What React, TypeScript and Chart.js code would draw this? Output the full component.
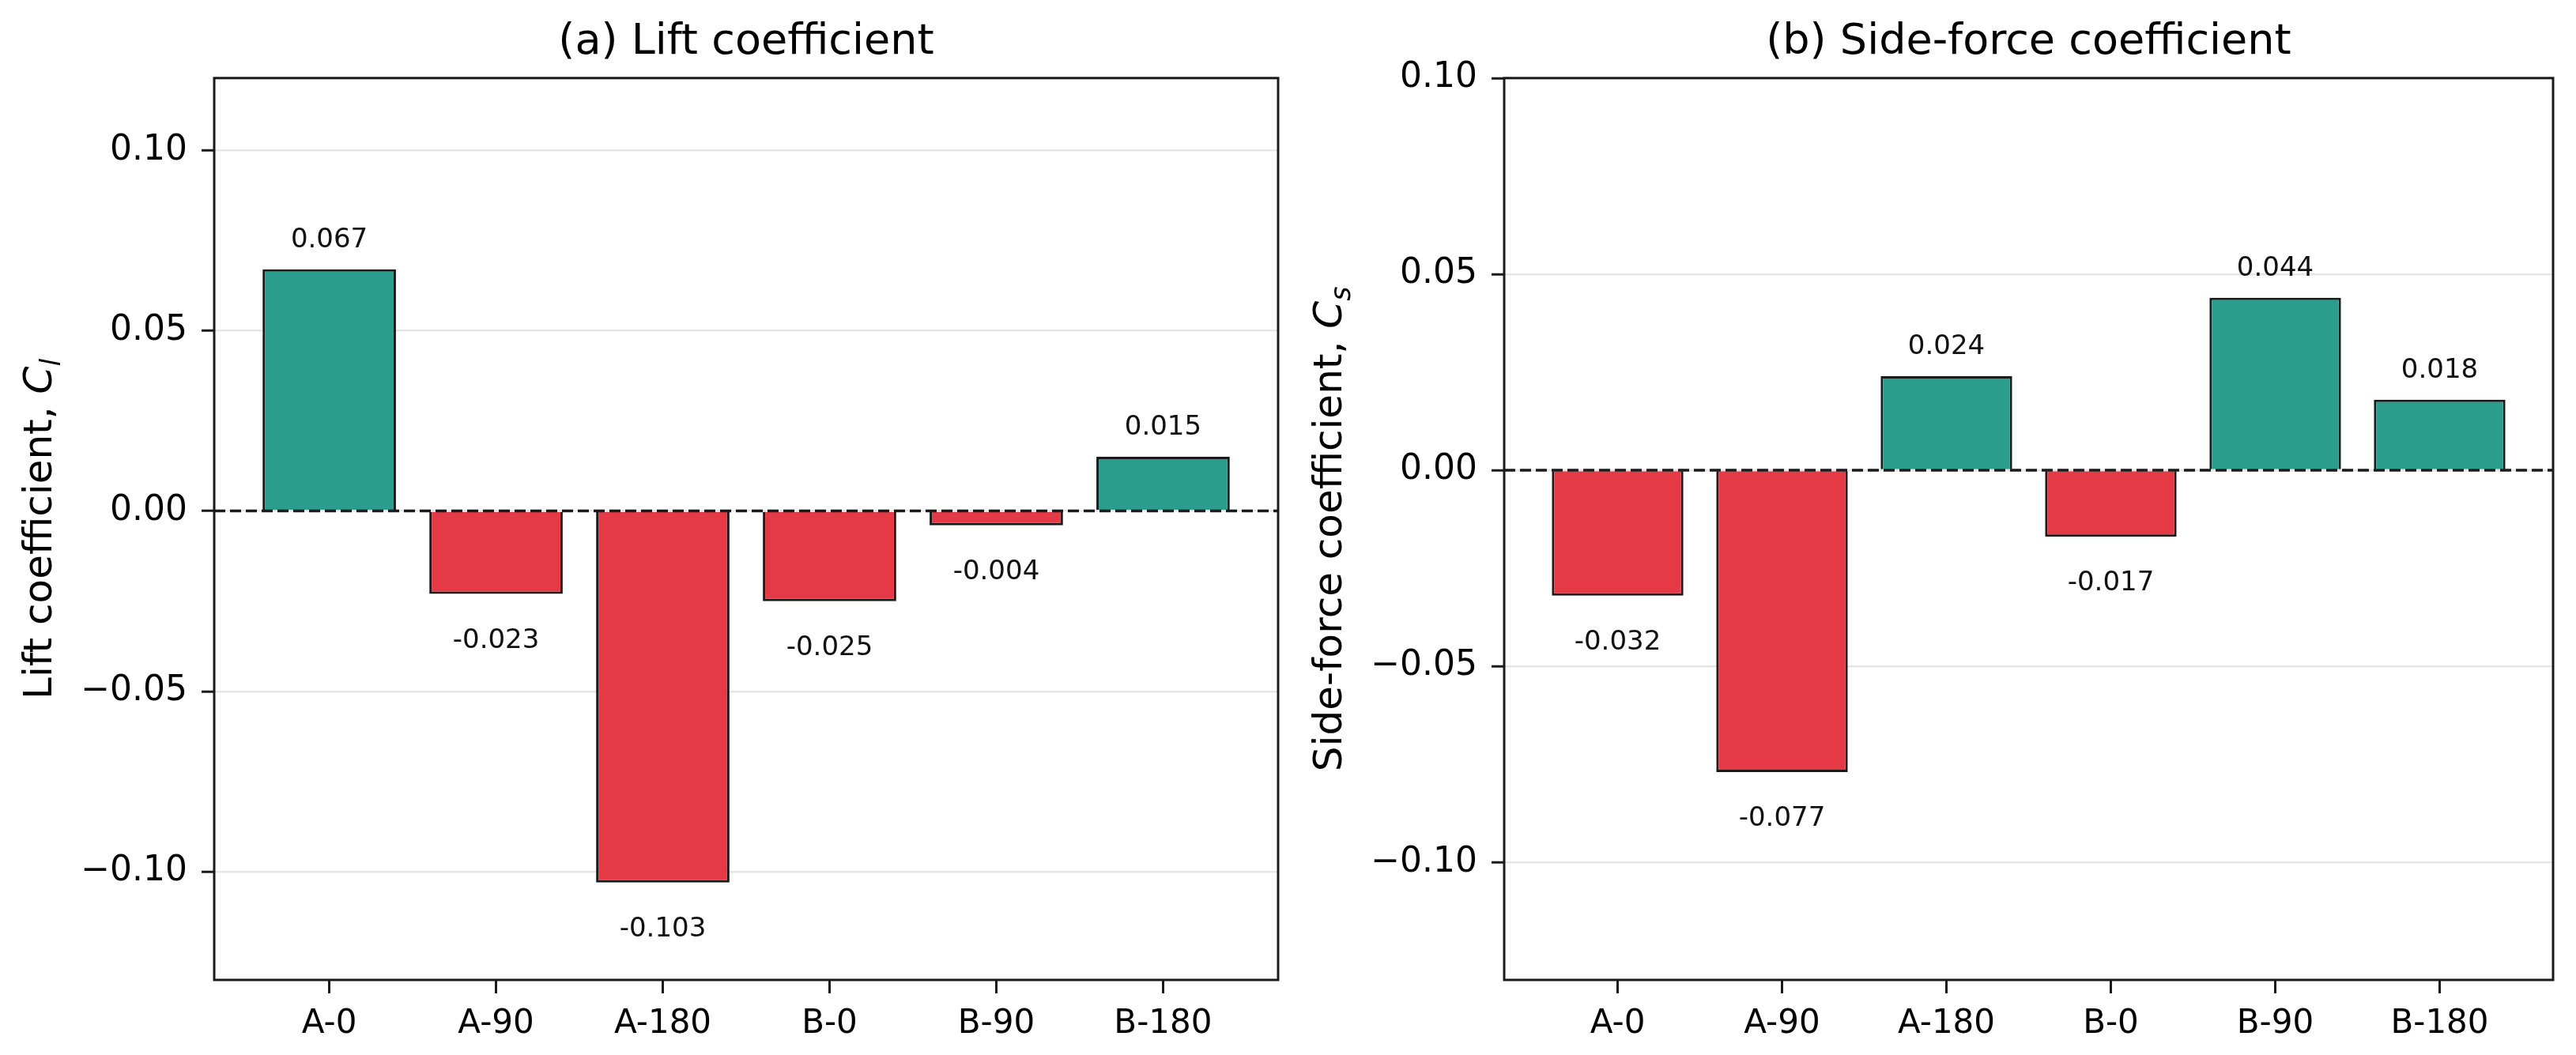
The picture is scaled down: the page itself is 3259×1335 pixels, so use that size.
import React, { useEffect, useRef } from 'react';
import { Chart, registerables } from 'chart.js';

Chart.register(...registerables);

// data
const categories = ['A-0', 'A-90', 'A-180', 'B-0', 'B-90', 'B-180'];
const liftValues = [0.067, -0.023, -0.103, -0.025, -0.004, 0.015];
const sideValues = [-0.032, -0.077, 0.024, -0.017, 0.044, 0.018];
const yTickValues = [-0.1, -0.05, 0, 0.05, 0.1];

const POS_COLOR = '#2a9d8f';
const NEG_COLOR = '#e63946';
const FONT = "'DejaVu Sans', sans-serif";
const INK = '#1a1a1a';

type PanelProps = {
  title: string;
  values: number[];
  yMin: number;
  yMax: number;
  labelMain: string;
  labelSym: string;
  labelSub: string;
  yAxisWidth: number;
  padRight: number;
  left: number;
  width: number;
};

const fmtTick = (v: number) => {
  const s = Math.abs(v).toFixed(2);
  return v < -1e-9 ? '\u2212' + s : s;
};

const Panel: React.FC<PanelProps> = (p) => {
  const canvasRef = useRef<HTMLCanvasElement>(null);

  useEffect(() => {
    if (!canvasRef.current) return;

    // 축 상자, 0 기준 점선, 값 라벨, y축 제목
    const decor = {
      id: 'decor',
      afterDatasetsDraw(chart: any) {
        const ctx = chart.ctx as CanvasRenderingContext2D;
        const { left, right } = chart.chartArea;
        const y0 = chart.scales.y.getPixelForValue(0);
        ctx.save();
        ctx.strokeStyle = INK;
        ctx.lineWidth = 3.5;
        ctx.setLineDash([14, 6]);
        ctx.beginPath();
        ctx.moveTo(left, y0);
        ctx.lineTo(right, y0);
        ctx.stroke();
        ctx.setLineDash([]);

        ctx.fillStyle = '#111';
        ctx.font = `34px ${FONT}`;
        ctx.textAlign = 'center';
        ctx.textBaseline = 'alphabetic';
        const meta = chart.getDatasetMeta(0);
        meta.data.forEach((bar: any, i: number) => {
          const v = p.values[i];
          const ty = v >= 0 ? bar.y - 28 : bar.y + 68;
          ctx.fillText(v.toFixed(3), bar.x, ty);
        });
        ctx.restore();
      },
      afterDraw(chart: any) {
        const ctx = chart.ctx as CanvasRenderingContext2D;
        const { left, right, top, bottom } = chart.chartArea;
        ctx.save();
        ctx.strokeStyle = INK;
        ctx.lineWidth = 3;
        ctx.strokeRect(left, top, right - left, bottom - top);

        // y label with math part
        ctx.translate(left - 206, (top + bottom) / 2);
        ctx.rotate(-Math.PI / 2);
        ctx.textBaseline = 'alphabetic';
        ctx.textAlign = 'left';
        ctx.fillStyle = '#000';
        ctx.font = `50px ${FONT}`;
        const w1 = ctx.measureText(p.labelMain).width;
        ctx.font = `italic 50px ${FONT}`;
        const w2 = ctx.measureText(p.labelSym).width;
        ctx.font = `italic 35px ${FONT}`;
        const w3 = ctx.measureText(p.labelSub).width;
        let x = -(w1 + w2 + w3) / 2;
        ctx.font = `50px ${FONT}`;
        ctx.fillText(p.labelMain, x, 0);
        x += w1;
        ctx.font = `italic 50px ${FONT}`;
        ctx.fillText(p.labelSym, x, 0);
        x += w2;
        ctx.font = `italic 35px ${FONT}`;
        ctx.fillText(p.labelSub, x, 11);
        ctx.restore();
      },
    };

    const chart = new Chart(canvasRef.current, {
      type: 'bar',
      data: {
        datasets: [
          {
            data: p.values.map((v, i) => ({ x: i, y: v })),
            backgroundColor: p.values.map((v) => (v >= 0 ? POS_COLOR : NEG_COLOR)),
            borderColor: INK,
            borderWidth: 3,
            barPercentage: 0.8,
            categoryPercentage: 1,
          },
        ],
      },
      options: {
        responsive: true,
        maintainAspectRatio: false,
        animation: false,
        events: [],
        layout: { padding: { left: 0, right: p.padRight, top: 0, bottom: 0 } },
        plugins: {
          legend: { display: false },
          tooltip: { enabled: false },
          title: {
            display: true,
            text: p.title,
            fullSize: false,
            color: '#000',
            font: { family: FONT, size: 54, weight: 'normal' },
            padding: { top: 22, bottom: 12 },
          },
        },
        scales: {
          x: {
            type: 'linear',
            min: -0.69,
            max: categories.length - 1 + 0.69,
            offset: false,
            afterBuildTicks: (axis: any) => {
              axis.ticks = categories.map((_, i) => ({ value: i }));
            },
            afterFit: (scale: any) => {
              scale.height = 95;
            },
            border: { display: false },
            grid: {
              offset: false,
              drawOnChartArea: false,
              tickLength: 17,
              tickColor: INK,
              tickWidth: 3,
            },
            ticks: {
              autoSkip: false,
              maxRotation: 0,
              padding: 14,
              color: '#000',
              font: { family: FONT, size: 42 },
              callback: (_v: any, i: number) => categories[i],
            },
          },
          y: {
            type: 'linear',
            min: p.yMin,
            max: p.yMax,
            afterBuildTicks: (axis: any) => {
              axis.ticks = yTickValues.map((v) => ({ value: v }));
            },
            afterFit: (scale: any) => {
              scale.width = p.yAxisWidth;
            },
            border: { display: false },
            grid: {
              color: 'rgba(0,0,0,0.1)',
              lineWidth: 2.5,
              tickLength: 16,
              tickColor: INK,
              tickWidth: 3,
            },
            ticks: {
              padding: 18,
              color: '#000',
              font: { family: FONT, size: 44 },
              callback: (v: any) => fmtTick(Number(v)),
            },
          },
        },
      } as any,
      plugins: [decor],
    });

    return () => {
      chart.destroy();
    };
  }, []);

  return (
    <div style={{ position: 'absolute', left: p.left, top: 0, width: p.width, height: 1335 }}>
      <canvas ref={canvasRef} />
    </div>
  );
};

const App: React.FC = () => {
  return (
    <div
      style={{
        position: 'fixed',
        left: 0,
        top: 0,
        width: 3259,
        height: 1335,
        background: '#fff',
        overflow: 'hidden',
      }}
    >
      <Panel
        title="(a) Lift coefficient"
        values={liftValues}
        yMin={-0.13}
        yMax={0.12}
        labelMain="Lift coefficient, "
        labelSym="C"
        labelSub="l"
        yAxisWidth={271}
        padRight={13}
        left={0}
        width={1630}
      />
      <Panel
        title="(b) Side-force coefficient"
        values={sideValues}
        yMin={-0.13}
        yMax={0.1}
        labelMain="Side-force coefficient, "
        labelSym="C"
        labelSub="s"
        yAxisWidth={273}
        padRight={29}
        left={1630}
        width={1629}
      />
    </div>
  );
};

export default App;
